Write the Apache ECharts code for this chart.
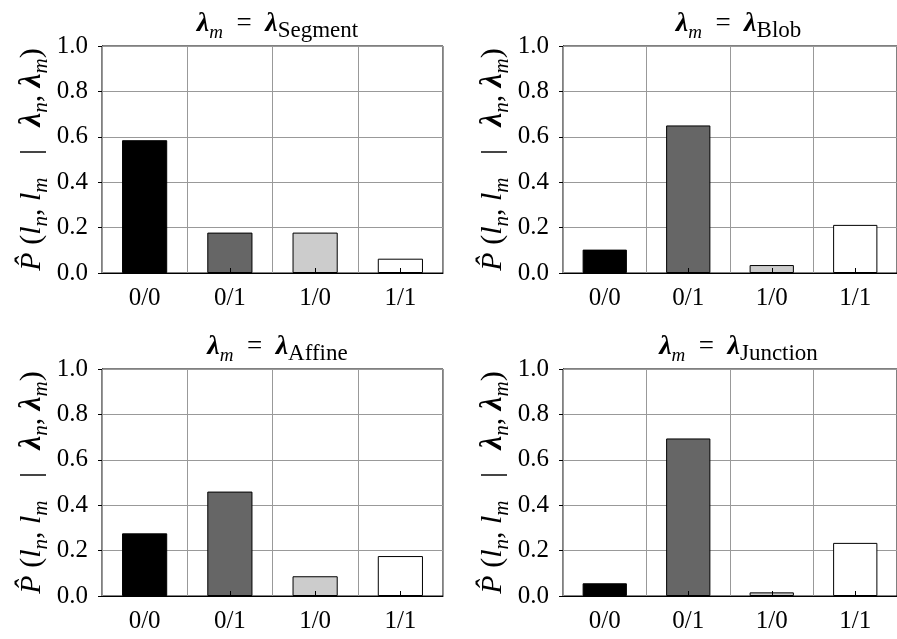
<!DOCTYPE html>
<html>
<head>
<meta charset="utf-8">
<script src="https://cdn.jsdelivr.net/npm/echarts@6/dist/echarts.min.js"></script>
<style>
html,body{margin:0;padding:0;background:#fff;}
#chart{width:897px;height:639px;}
</style>
</head>
<body>
<div id="chart"></div>
<script>
// ---- data ----
const categories = ['0/0', '0/1', '1/0', '1/1'];
const segmentValues = [0.585, 0.178, 0.178, 0.063];
const blobValues = [0.103, 0.650, 0.035, 0.212];
const affineValues = [0.276, 0.460, 0.087, 0.176];
const junctionValues = [0.056, 0.694, 0.016, 0.234];
const panelNames = ['Segment', 'Blob', 'Affine', 'Junction'];
const yMin = 0, yMax = 1.0, yStep = 0.2;

// ---- styles ----
const FONT = '"Liberation Serif", serif';
const barColors = ['#000000', '#666666', '#cccccc', '#ffffff'];
const panels = [
  { values: segmentValues, name: panelNames[0], left: 102, top: 46 },
  { values: blobValues, name: panelNames[1], left: 563, top: 46 },
  { values: affineValues, name: panelNames[2], left: 102, top: 369 },
  { values: junctionValues, name: panelNames[3], left: 563, top: 369 }
];
const W = 341, H = 227;

function richSet(main, bold, sub, subR, lh) {
  return {
    r: { fontFamily: FONT, fontSize: main, fontWeight: 'normal', color: '#000', lineHeight: lh, verticalAlign: 'middle' },
    i: { fontFamily: FONT, fontSize: main, fontWeight: 'normal', fontStyle: 'italic', color: '#000', lineHeight: lh, verticalAlign: 'middle' },
    b: { fontFamily: FONT, fontSize: bold, fontWeight: 'bold', fontStyle: 'italic', color: '#000', lineHeight: lh, verticalAlign: 'middle' },
    s: { fontFamily: FONT, fontSize: sub, fontWeight: 'normal', fontStyle: 'italic', color: '#000', lineHeight: lh - 2, verticalAlign: 'bottom' },
    sr: { fontFamily: FONT, fontSize: subR, fontWeight: 'normal', color: '#000', lineHeight: lh - 2, verticalAlign: 'bottom' }
  };
}
const richName = richSet(30, 31, 21, 21, 40);
const richTitle = richSet(27, 28, 19, 23, 36);

const grids = [], xAxes = [], yAxes = [], series = [], titles = [];
panels.forEach((p, k) => {
  grids.push({ left: p.left, top: p.top, width: W, height: H, show: true, borderColor: '#000', borderWidth: 1, backgroundColor: 'transparent' });
  xAxes.push({
    type: 'category', gridIndex: k, data: categories, z: 3,
    axisLine: { lineStyle: { color: '#000', width: 1 } },
    axisTick: { show: true, alignWithLabel: true, inside: true, length: 5, lineStyle: { color: '#000' } },
    axisLabel: { fontFamily: FONT, fontSize: 25, color: '#000', margin: 13 },
    splitLine: { show: true, lineStyle: { color: '#999999', width: 1 } }
  });
  yAxes.push({
    type: 'value', gridIndex: k, min: yMin, max: yMax, interval: yStep,
    axisLine: { show: true, lineStyle: { color: '#000', width: 1 } },
    axisTick: { show: true, inside: false, length: 4, lineStyle: { color: '#000' } },
    axisLabel: { fontFamily: FONT, fontSize: 25, color: '#000', margin: 14, formatter: v => v.toFixed(1) },
    splitLine: { show: true, lineStyle: { color: '#999999', width: 1 } },
    name: '{i|P\u0302}{r| (}{i|l}{s|n}{r|, }{i|l}{s|m}{r|   |   }{b|λ}{s|n}{r|, }{b|λ}{s|m}{r|)}',
    nameLocation: 'middle', nameRotate: 90, nameGap: 50,
    nameTextStyle: { rich: richName }
  });
  series.push({
    type: 'bar', xAxisIndex: k, yAxisIndex: k, barWidth: '53%',
    data: p.values.map((v, j) => ({ value: v, itemStyle: { color: barColors[j], borderColor: '#000', borderWidth: 1 } })),
    z: 2
  });
  titles.push({
    text: '{b|λ}{s|m}{r|  =  }{b|λ}{sr|' + p.name + '}',
    left: p.left + W / 2, top: p.top - 45, textAlign: 'center',
    textStyle: { fontWeight: 'normal', rich: richTitle }
  });
});

const chart = echarts.init(document.getElementById('chart'), null, { renderer: 'canvas' });
chart.setOption({
  animation: false,
  backgroundColor: '#fff',
  title: titles,
  grid: grids,
  xAxis: xAxes,
  yAxis: yAxes,
  series: series
});
</script>
</body>
</html>
